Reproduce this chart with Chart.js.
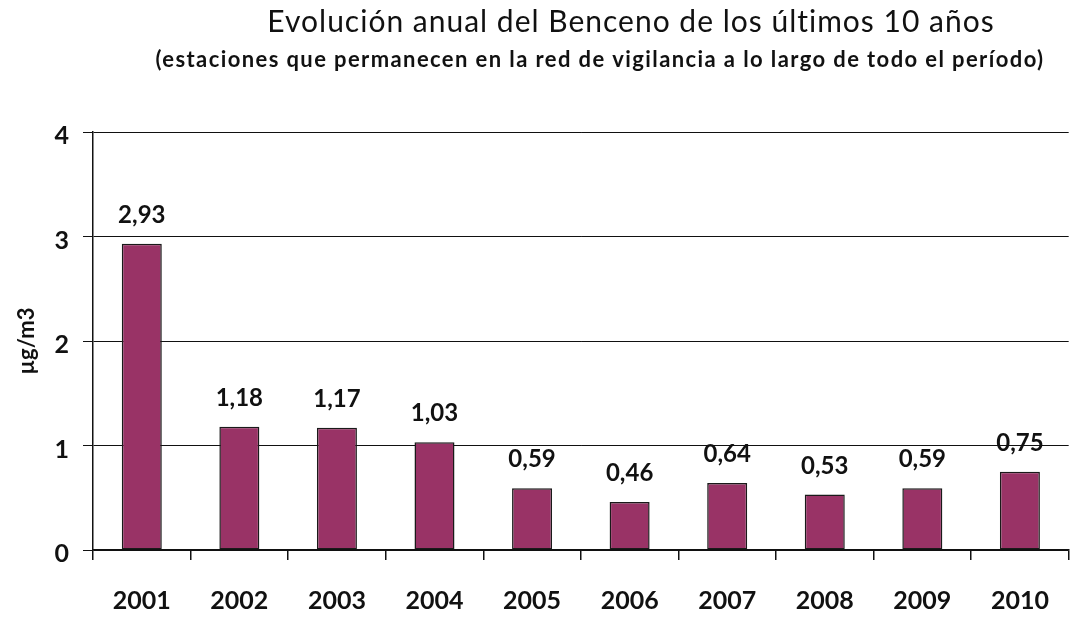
<!DOCTYPE html>
<html>
<head>
<meta charset="utf-8">
<script src="https://cdn.jsdelivr.net/npm/chart.js@4"></script>
<style>
  body { margin: 0; background: #fff; }
  canvas { display: block; }
</style>
</head>
<body>
<canvas id="bencenoChart" width="1075" height="617"></canvas>
<script>
var years = ["2001", "2002", "2003", "2004", "2005", "2006", "2007", "2008", "2009", "2010"];
var benceno = [2.93, 1.18, 1.17, 1.03, 0.59, 0.46, 0.64, 0.53, 0.59, 0.75];
var yTicks = [0, 1, 2, 3, 4];

var titleText = "Evolución anual del Benceno de los últimos 10 años";
var subtitleText = "(estaciones que permanecen en la red de vigilancia a lo largo de todo el período)";

var canvas = document.getElementById("bencenoChart");
var ctx = canvas.getContext("2d");

// titles are not centred on the canvas in the original, so draw them by hand
var titlesPlugin = {
  id: "titles",
  afterDraw: function (chart) {
    var c = chart.ctx;
    c.save();
    c.fillStyle = "#111";
    c.textAlign = "center";
    c.textBaseline = "middle";
    c.font = "30px Lato";
    c.letterSpacing = "1px";
    c.fillText(titleText, 631, 22);
    c.font = "bold 22px Lato";
    c.letterSpacing = "1.4px";
    c.fillText(subtitleText, 600, 60);
    c.restore();
  },
};

var valueLabelPlugin = {
  id: "valueLabels",
  afterDatasetsDraw: function (chart) {
    var c = chart.ctx;
    var meta = chart.getDatasetMeta(0);
    c.save();
    c.fillStyle = "#111";
    c.font = "bold 24px Lato";
    c.textAlign = "center";
    c.textBaseline = "alphabetic";
    for (var i = 0; i < meta.data.length; i++) {
      var bar = meta.data[i];
      var txt = benceno[i].toFixed(2).replace(".", ",");
      c.fillText(txt, bar.x, bar.y - 21);
    }
    c.restore();
  },
};

Chart.register(titlesPlugin, valueLabelPlugin);

var chart = new Chart(ctx, {
  type: "bar",
  data: {
    labels: years,
    datasets: [
      {
        data: benceno,
        backgroundColor: "#993366",
        borderColor: "#1a1a1a",
        borderWidth: 1.5,
        borderSkipped: false,
        barPercentage: 0.41,
        categoryPercentage: 1,
      },
    ],
  },
  options: {
    responsive: false,
    animation: false,
    layout: {
      padding: { top: 132, right: 2, left: 0, bottom: 0 },
    },
    plugins: {
      legend: { display: false },
      tooltip: { enabled: false },
    },
    scales: {
      x: {
        offset: true,
        afterFit: function (axis) {
          axis.height = 67;
        },
        grid: {
          offset: true,
          drawOnChartArea: false,
          drawTicks: true,
          tickLength: 10,
          color: "#111",
          lineWidth: 1.5,
        },
        border: { color: "#111", width: 1.5 },
        ticks: {
          color: "#111",
          font: { family: "Lato", size: 25, weight: "bold" },
          padding: 26,
        },
      },
      y: {
        min: 0,
        max: 4,
        afterBuildTicks: function (axis) {
          axis.ticks = yTicks.map(function (v) {
            return { value: v };
          });
        },
        afterFit: function (axis) {
          axis.width = 93;
        },
        grid: {
          color: "#111",
          tickLength: 10,
        },
        border: { color: "#111", width: 1.5 },
        ticks: {
          color: "#111",
          font: { family: "Lato", size: 25, weight: "bold" },
          padding: 14,
          labelOffset: 4,
        },
        title: {
          display: true,
          text: "µg/m3",
          color: "#111",
          font: { family: "Lato", size: 22, weight: "bold" },
          padding: { top: 14, bottom: 0 },
        },
      },
    },
  },
});
</script>
</body>
</html>
